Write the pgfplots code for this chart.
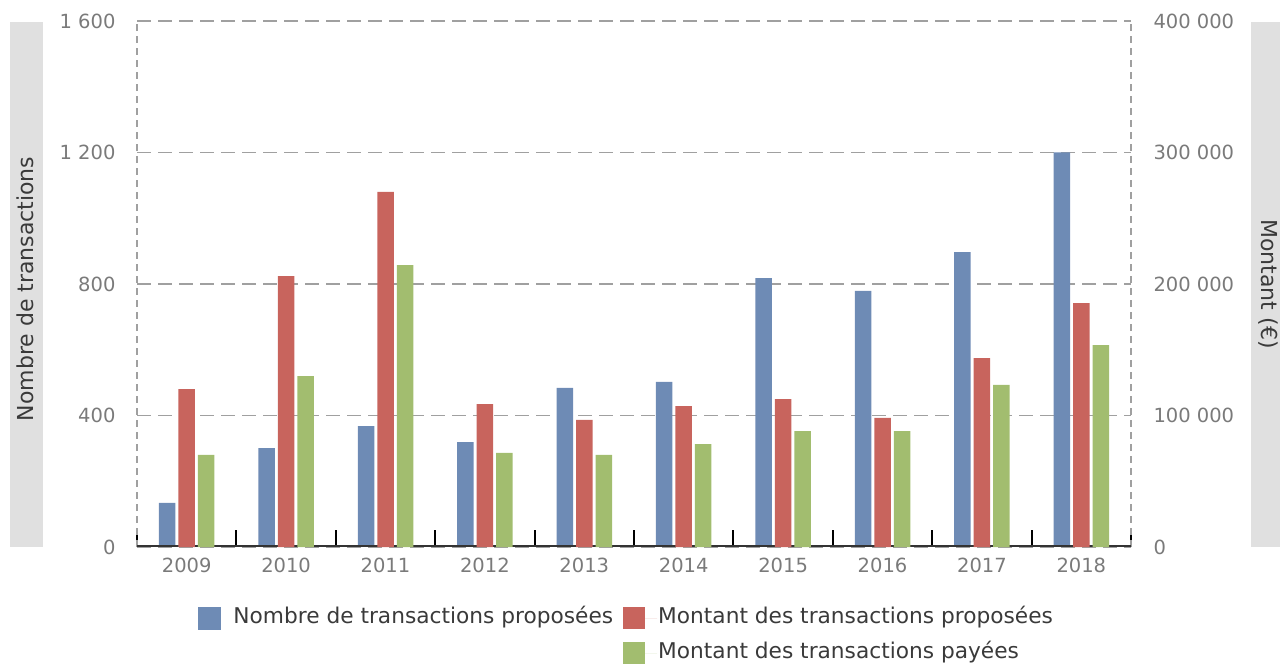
\documentclass[border=0pt]{standalone}
\usepackage{pgfplots}
\pgfplotsset{compat=1.18}
\usepackage{fontspec}
\setmainfont{DejaVu Sans}
\definecolor{cblue}{HTML}{6E8BB5}
\definecolor{cred}{HTML}{C8645D}
\definecolor{cgreen}{HTML}{A2BD6F}
\definecolor{band}{HTML}{E0E0E0}
\definecolor{tickgray}{HTML}{7A7A7A}
\definecolor{gridgray}{HTML}{A0A0A0}
\definecolor{txt}{HTML}{3A3A3A}
\pgfplotsset{sqlegend/.style={legend image code/.code={%
  \path[draw=none] (0pt,0pt) -- (34pt,0pt);
  \fill[#1] (0pt,-11pt) rectangle (22pt,11pt);}}}
\begin{document}
\begin{tikzpicture}[x=1pt,y=1pt]
\useasboundingbox (0,0) rectangle (1280,664);
\fill[band] (10,117) rectangle (43,642);
\fill[band] (1251,117) rectangle (1300,642);
\node[rotate=90, font=\fontsize{22}{26}\selectfont, text=txt] at (25,375) {Nombre de transactions};
\node[rotate=-90, font=\fontsize{22}{26}\selectfont, text=txt] at (1268,380) {Montant (€)};

\begin{axis}[at={(137pt,117pt)}, anchor=south west, scale only axis,
  width=994pt, height=526pt,
  xmin=-0.5, xmax=9.5, ymin=0, ymax=1600,
  ytick={0,400,800,1200,1600}, yticklabels={0,400,800,1 200,1 600},
  ytick style={draw=none},
  yticklabel style={text=tickgray, font=\fontsize{19.5}{23}\selectfont, xshift=-18pt},
  xtick={-0.5,0.5,1.5,2.5,3.5,4.5,5.5,6.5,7.5,8.5,9.5}, xticklabels={},
  extra x ticks={0,1,2,3,4,5,6,7,8,9},
  extra x tick labels={2009,2010,2011,2012,2013,2014,2015,2016,2017,2018},
  extra x tick style={major tick length=0pt},
  xticklabel style={text=tickgray, font=\fontsize{19.5}{23}\selectfont, yshift=-7.5pt},
  tick align=inside, major tick length=17pt, xtick pos=left,
  xtick style={black, line width=2pt},
  ymajorgrids=true,
  major grid style={gridgray, dash pattern=on 14pt off 7pt, line width=1.3pt},
  separate axis lines,
  axis line style={gridgray, dash pattern=on 7pt off 5pt, line width=1.3pt},
  x axis line style={draw=none},
  scaled y ticks=false,
]
\addplot[ybar, bar width=16.5pt, bar shift=-19.5pt, fill=cblue, draw=none]
  coordinates {(0,134) (1,301) (2,368) (3,319) (4,484) (5,502) (6,818) (7,779) (8,897) (9,1200)};
\draw[black!80, line width=3pt] (axis cs:-0.5,0) -- (axis cs:9.5,0);
\end{axis}

\begin{axis}[at={(137pt,117pt)}, anchor=south west, scale only axis,
  width=994pt, height=526pt,
  xmin=-0.5, xmax=9.5, ymin=0, ymax=400000,
  axis y line*=right, axis x line=none,
  ytick={0,100000,200000,300000,400000},
  yticklabels={0,100 000,200 000,300 000,400 000},
  ytick style={draw=none}, y axis line style={draw=none},
  yticklabel style={text=tickgray, font=\fontsize{19.5}{23}\selectfont, xshift=19pt},
  scaled y ticks=false,
  legend columns=2,
  legend style={at={(axis description cs:0.492,-0.169)}, anchor=center,
    draw=none, fill=none, font=\fontsize{21.7}{26}\selectfont, text=txt,
    column sep=0pt, row sep=12pt,
    nodes={inner sep=1pt, text height=16pt, text depth=5pt},
    cells={anchor=west},
    /tikz/every even column/.append style={column sep=9pt}},
]
\addlegendimage{sqlegend=cblue}
\addlegendentry{Nombre de transactions proposées}
\addplot[ybar, bar width=16.5pt, bar shift=0pt, fill=cred, draw=none, sqlegend=cred]
  coordinates {(0,120000) (1,206000) (2,270000) (3,108700) (4,96600) (5,107200) (6,112500) (7,98100) (8,143700) (9,185500)};
\addlegendentry{Montant des transactions proposées}
\addlegendimage{empty legend}
\addlegendentry{}
\addplot[ybar, bar width=16.5pt, bar shift=19.5pt, fill=cgreen, draw=none, sqlegend=cgreen]
  coordinates {(0,70000) (1,130000) (2,214400) (3,71500) (4,70000) (5,78300) (6,88200) (7,88200) (8,123200) (9,153600)};
\addlegendentry{Montant des transactions payées}
\end{axis}
\end{tikzpicture}
\end{document}
